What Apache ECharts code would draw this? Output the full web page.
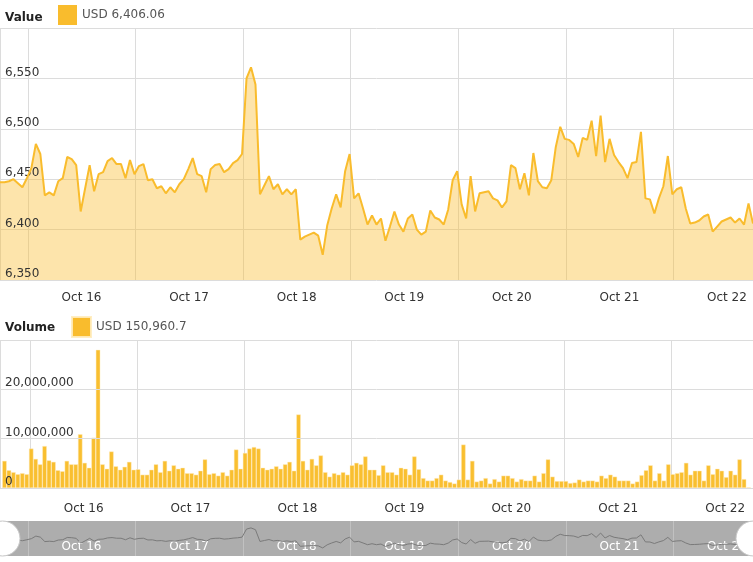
<!DOCTYPE html>
<html>
<head>
<meta charset="utf-8">
<script src="https://cdn.jsdelivr.net/npm/echarts@6/dist/echarts.min.js"></script>
<style>
  html, body { margin: 0; padding: 0; background: #fff; }
  #chart { width: 753px; height: 562px; }
</style>
</head>
<body>
<div id="chart"></div>
<script>
// hourly points, first one at Oct 15 17:45
const startTime = new Date(2018, 9, 15, 17, 45).getTime()
const HOUR = 3600 * 1000
const DAY = 24 * HOUR
const months = ['Jan', 'Feb', 'Mar', 'Apr', 'May', 'Jun', 'Jul', 'Aug', 'Sep', 'Oct', 'Nov', 'Dec']

const price = [
  6447, 6447, 6448, 6450, 6446, 6442, 6451, 6461, 6485, 6475,
  6434, 6437, 6434, 6448, 6451, 6472, 6470, 6464, 6418, 6441,
  6464, 6438, 6455, 6457, 6468, 6471, 6465, 6465, 6451, 6469,
  6455, 6463, 6465, 6449, 6450, 6441, 6443, 6436, 6442, 6437,
  6445, 6450, 6460, 6471, 6455, 6453, 6437, 6460, 6464, 6465,
  6457, 6460, 6466, 6469, 6475, 6550, 6561, 6544, 6435, 6444,
  6453, 6440, 6445, 6435, 6440, 6435, 6440, 6390, 6393, 6395,
  6397, 6394, 6375, 6404, 6421, 6435, 6422, 6458, 6475, 6431,
  6436, 6421, 6405, 6414, 6405, 6411, 6389, 6403, 6418, 6405,
  6398, 6411, 6415, 6400, 6395, 6398, 6419, 6412, 6410, 6405,
  6420, 6449, 6458, 6425, 6411, 6453, 6418, 6436, 6437, 6438,
  6431, 6429, 6422, 6428, 6464, 6461, 6440, 6456, 6434, 6476,
  6448, 6442, 6441, 6449, 6482, 6502, 6490, 6489, 6485, 6472,
  6491, 6489, 6508, 6473, 6513, 6467, 6490, 6474, 6467, 6461,
  6451, 6466, 6467, 6497, 6431, 6430, 6416, 6431, 6443, 6473,
  6435, 6440, 6442, 6421, 6406, 6407, 6409, 6413, 6415, 6398,
  6403, 6408, 6410, 6412, 6407, 6411, 6405, 6426, 6406.06
]

// volume per hour, in millions of USD
const volumeM = [
  5.5, 3.6, 3.2, 2.8, 3.0, 2.8, 8.0, 5.9, 4.8, 8.5,
  5.6, 5.3, 3.6, 3.4, 5.5, 4.8, 4.8, 10.9, 5.1, 4.1,
  10.2, 28.0, 4.8, 3.9, 7.4, 4.4, 3.7, 4.3, 5.3, 3.7,
  3.8, 2.7, 2.7, 3.7, 4.8, 3.2, 5.5, 3.5, 4.6, 3.9,
  4.1, 3.0, 3.0, 2.7, 3.5, 5.8, 2.8, 3.0, 2.5, 3.2,
  2.5, 3.7, 7.8, 3.9, 7.1, 8.0, 8.3, 8.0, 4.1, 3.7,
  3.9, 4.4, 3.9, 4.8, 5.3, 3.5, 14.9, 5.5, 3.7, 5.9,
  4.6, 6.6, 3.2, 2.3, 3.0, 2.7, 3.2, 2.7, 4.6, 5.1,
  4.8, 6.4, 3.7, 3.7, 2.6, 4.6, 3.2, 3.2, 2.7, 4.1,
  3.9, 2.7, 6.4, 3.8, 2.0, 1.5, 1.5, 2.0, 2.7, 1.5,
  1.2, 0.9, 1.7, 8.8, 1.7, 5.5, 1.3, 1.5, 2.0, 0.9,
  1.8, 1.3, 2.5, 2.5, 2.0, 1.3, 1.8, 1.5, 1.5, 2.5,
  1.3, 3.0, 5.8, 2.3, 1.4, 1.4, 1.4, 1.0, 1.1, 1.7,
  1.3, 1.5, 1.5, 1.3, 2.5, 2.0, 2.7, 2.3, 1.5, 1.5,
  1.5, 0.9, 1.3, 2.6, 3.6, 4.6, 1.5, 3.0, 1.5, 4.8,
  2.8, 3.0, 3.2, 5.1, 2.7, 3.5, 3.5, 1.5, 4.6, 2.8,
  3.9, 3.5, 2.2, 3.5, 2.7, 5.8, 1.8, 0.1509607
]

const priceAxis = [6350, 6600, 50]
const volumeAxis = [0, 30000000, 10000000]

const endTime = startTime + (price.length - 1) * HOUR
const priceData = price.map((v, i) => [startTime + i * HOUR, v])
const volumeData = volumeM.map((v, i) => [startTime + (i + 0.5) * HOUR, v * 1e6])

const lastPrice = price[price.length - 1]
const lastVolume = volumeM[volumeM.length - 1] * 1e6

const font = 'DejaVu Sans'
const gold = '#f9bc2d'

const dayLabel = val => {
    const d = new Date(val)
    return months[d.getMonth()] + ' ' + d.getDate()
}

const timeAxis = (grid, labelColor, margin, inside) => ({
    type: 'time',
    gridIndex: grid,
    min: startTime,
    max: endTime,
    minInterval: DAY,
    maxInterval: DAY,
    axisLine: { show: false },
    axisTick: { show: false },
    axisLabel: {
        formatter: dayLabel,
        color: labelColor,
        fontSize: 12,
        fontFamily: font,
        margin: margin,
        inside: inside,
        // day labels sit at midday, half a day right of the midnight line
        padding: [0, 0, 0, 107]
    },
    splitLine: { show: true, lineStyle: { color: inside ? 'rgba(255,255,255,0.25)' : '#dcdcdc' } }
})

const valueAxis = (grid, range) => ({
    type: 'value',
    gridIndex: grid,
    min: range[0],
    max: range[1],
    interval: range[2],
    z: 3,
    axisLine: { show: false },
    axisTick: { show: false },
    axisLabel: {
        inside: true,
        showMaxLabel: false,
        verticalAlign: 'bottom',
        margin: 5,
        color: '#333',
        fontSize: 12,
        fontFamily: font,
        formatter: v => v.toLocaleString('en-US')
    },
    splitLine: { lineStyle: { color: '#dcdcdc' } }
})

const chart = echarts.init(document.getElementById('chart'))

const volumeX = timeAxis(1, '#333', 15, false)
volumeX.axisLine = { show: true, lineStyle: { color: '#d6aa45' } }

chart.setOption({
    animation: false,
    title: [
        { text: 'Value', left: 5, top: 12, padding: 0, textStyle: { fontSize: 12, fontWeight: 'bold', color: '#222', fontFamily: font } },
        { text: 'Volume', left: 5, top: 322, padding: 0, textStyle: { fontSize: 12, fontWeight: 'bold', color: '#222', fontFamily: font } }
    ],
    legend: [
        {
            data: ['Price'], left: 58, top: 5, padding: 0, icon: 'rect', itemWidth: 19, itemHeight: 20,
            itemStyle: { color: gold },
            formatter: () => 'USD ' + lastPrice.toLocaleString('en-US', { minimumFractionDigits: 2 }),
            textStyle: { color: '#555', fontSize: 12, fontFamily: font }
        },
        {
            data: ['Volume'], left: 71, top: 316, padding: 0, icon: 'rect', itemWidth: 19, itemHeight: 20,
            itemStyle: { color: gold },
            formatter: () => 'USD ' + lastVolume.toLocaleString('en-US', { maximumFractionDigits: 1 }),
            textStyle: { color: '#555', fontSize: 12, fontFamily: font }
        }
    ],
    grid: [
        { left: 0, right: 0, top: 28, height: 252 },
        { left: 0, right: 0, top: 340, height: 148 },
        { left: 0, right: 0, top: 521, height: 35, show: true, backgroundColor: '#adadad', borderWidth: 0 }
    ],
    xAxis: [
        timeAxis(0, '#333', 12, false),
        volumeX,
        timeAxis(2, '#fff', 3, true)
    ],
    yAxis: [
        valueAxis(0, priceAxis),
        valueAxis(1, volumeAxis),
        { type: 'value', gridIndex: 2, min: 6300, max: 6625, show: false }
    ],
    dataZoom: [{
        type: 'slider',
        xAxisIndex: [0, 1],
        start: 0,
        end: 100,
        filterMode: 'none',
        left: 0,
        right: 0,
        top: 521,
        height: 35,
        showDataShadow: false,
        showDetail: false,
        brushSelect: false,
        moveHandleSize: 0,
        backgroundColor: 'rgba(0,0,0,0)',
        borderColor: 'rgba(0,0,0,0)',
        fillerColor: 'rgba(0,0,0,0)',
        handleIcon: 'circle',
        handleSize: '100%',
        handleStyle: { color: '#fff', borderColor: '#c8c8c8', borderWidth: 1 }
    }],
    series: [
        {
            name: 'Price',
            type: 'line',
            xAxisIndex: 0,
            yAxisIndex: 0,
            data: priceData,
            showSymbol: false,
            lineStyle: { color: gold, width: 2 },
            itemStyle: { color: gold },
            areaStyle: { color: gold, opacity: 0.4 }
        },
        {
            name: 'Volume',
            type: 'bar',
            xAxisIndex: 1,
            yAxisIndex: 1,
            data: volumeData,
            barCategoryGap: '0%',
            itemStyle: { color: '#f9bf30', borderColor: 'rgba(255,236,190,0.9)', borderWidth: 0.5 }
        },
        {
            name: 'overview',
            type: 'line',
            xAxisIndex: 2,
            yAxisIndex: 2,
            data: priceData,
            showSymbol: false,
            silent: true,
            lineStyle: { color: '#7a7a7a', width: 1 }
        }
    ]
})
</script>
</body>
</html>
